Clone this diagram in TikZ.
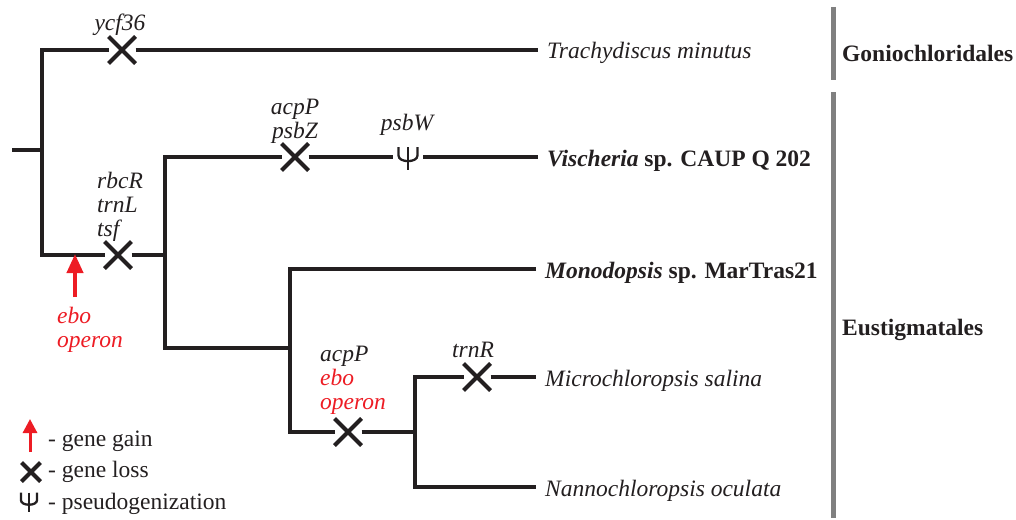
\documentclass[tikz,border=0pt]{standalone}
\usepackage{fontspec}
\setmainfont{Liberation Serif}
\usetikzlibrary{shapes.misc,arrows.meta}
\definecolor{ink}{HTML}{231F20}
\definecolor{gainred}{HTML}{ED1C24}
\definecolor{bargrey}{HTML}{808080}
\newcommand\psiglyph[3]{%
  \begin{scope}[shift={(#1.center)}, yshift=#3, scale=#2]
    \draw[psiline] (0,-11.5) -- (0,11.5);
    \draw[psiline] (-9.5,-11.5) -- (-9.5,-3) .. controls (-9.5,4.5) and (9.5,4.5) .. (9.5,-3) -- (9.5,-11.5);
  \end{scope}}
\begin{document}
\begin{tikzpicture}[x=1pt,y=-1pt,
  every node/.style={font=\fontsize{23.5}{24}\selectfont, text=ink},
  branch/.style={draw=ink, line width=4pt, line join=miter},
  loss/.style={cross out, draw=ink, line width=4pt, minimum size=19pt, inner sep=0pt, outer sep=4pt},
  pseudo/.style={inner sep=0pt, outer sep=4pt, minimum width=22pt, minimum height=23pt},
  psiline/.style={draw=ink, line width=2.3pt},
  taxon/.style={anchor=base west, inner xsep=9pt, inner ysep=0pt},
  gene/.style={font=\itshape\fontsize{23.5}{24}\selectfont, inner sep=0pt},
  redgene/.style={gene, text=gainred},
  clade/.style={font=\bfseries\fontsize{23.5}{24}\selectfont, anchor=west, inner sep=0pt},
  legend/.style={anchor=west, inner sep=0pt},
  gain/.style={draw=gainred, line width=4pt, -{Triangle[length=19pt,width=16pt]}},
  smallgain/.style={draw=gainred, line width=3pt, -{Triangle[length=14pt,width=14pt]}},
  bar/.style={draw=bargrey, line width=5pt}
]
\useasboundingbox (0,0) rectangle (1016,519);

% root and first split
\coordinate (r0) at (12,150);
\coordinate (r)  at (42,150);
\coordinate (rt) at (42,50);
\coordinate (rb) at (42,255);
\node[loss] (x1) at (122,50) {};
\node[gene] (g1) at (120,25) {ycf36};
\node[taxon] (t1) at (538,59) {\itshape Trachydiscus minutus};
\node[loss] (x2) at (118,255) {};
\draw[branch] (r0) -- (r);
\draw[branch] (x1) -- (rt) -- (rb) -- (x2);
\draw[branch] (x1) -- (x1 -| t1.west);

% Eustigmatales
\coordinate (e)  at (165,255);
\coordinate (et) at (165,157);
\coordinate (eb) at (165,348);
\draw[branch] (x2) -- (e);
\node[gene, align=left, anchor=west] (g2) at (97,207) {rbcR\\trnL\\tsf};
\coordinate (ga0) at (75,297);
\coordinate (ga1) at (75,254);
\draw[gain] (ga0) -- (ga1);
\node[redgene, align=left, anchor=west] (g3) at (57,330) {ebo\\operon};

% Vischeria
\node[loss] (x3) at (295,157) {};
\node[pseudo] (p1) at (408,157) {};
\psiglyph{p1}{1}{-1.5pt}
\node[taxon] (t2) at (538,166) {\bfseries\textit{Vischeria} sp. CAUP Q 202};
\node[gene, align=center] (g4) at (295,121) {acpP\\psbZ};
\node[gene] (g5) at (407,125) {psbW};
\coordinate (m) at (290,348);
\draw[branch] (x3) -- (et) -- (eb) -- (m);
\draw[branch] (x3) -- (p1);
\draw[branch] (p1) -- (p1 -| t2.west);

% Monodopsis + Nannochloropsidaceae
\coordinate (mt) at (290,269);
\coordinate (mb) at (290,432);
\node[taxon] (t3) at (536,278) {\bfseries\textit{Monodopsis} sp. MarTras21};
\node[loss] (x4) at (348,432) {};
\node[gene, align=left, anchor=west] (g6) at (320,380) {acpP\\\textcolor{gainred}{ebo}\\\textcolor{gainred}{operon}};
\draw[branch] (mt -| t3.west) -- (mt) -- (mb) -- (x4);

\coordinate (n)  at (415,432);
\coordinate (nt) at (415,377);
\coordinate (nb) at (415,487);
\node[loss] (x5) at (477,377) {};
\node[gene] (g7) at (473,350) {trnR};
\node[taxon] (t4) at (536,386) {\itshape Microchloropsis salina};
\node[taxon] (t5) at (536,496) {\itshape Nannochloropsis oculata};
\draw[branch] (x4) -- (n);
\draw[branch] (x5) -- (nt) -- (nb) -- (nb -| t5.west);
\draw[branch] (x5) -- (x5 -| t4.west);

% clade bars
\coordinate (b1t) at (833,7);
\coordinate (b1b) at (833,80);
\coordinate (b2t) at (833,92);
\coordinate (b2b) at (833,518);
\draw[bar] (b1t) -- (b1b);
\draw[bar] (b2t) -- (b2b);
\node[clade] (c1) at (842,53) {Goniochloridales};
\node[clade] (c2) at (842,330) {Eustigmatales};

% legend
\coordinate (la0) at (30,452);
\coordinate (la1) at (30,419);
\draw[smallgain] (la0) -- (la1);
\node[legend] (l1) at (48,441) {- gene gain};
\node[loss, outer sep=0pt] (lx) at (31,472) {};
\node[legend] (l2) at (48,472) {- gene loss};
\node[pseudo, outer sep=0pt, minimum width=18pt, minimum height=21pt] (lp) at (29,502.5) {};
\psiglyph{lp}{0.85}{0pt}
\node[legend] (l3) at (48,504) {- pseudogenization};
\end{tikzpicture}
\end{document}
